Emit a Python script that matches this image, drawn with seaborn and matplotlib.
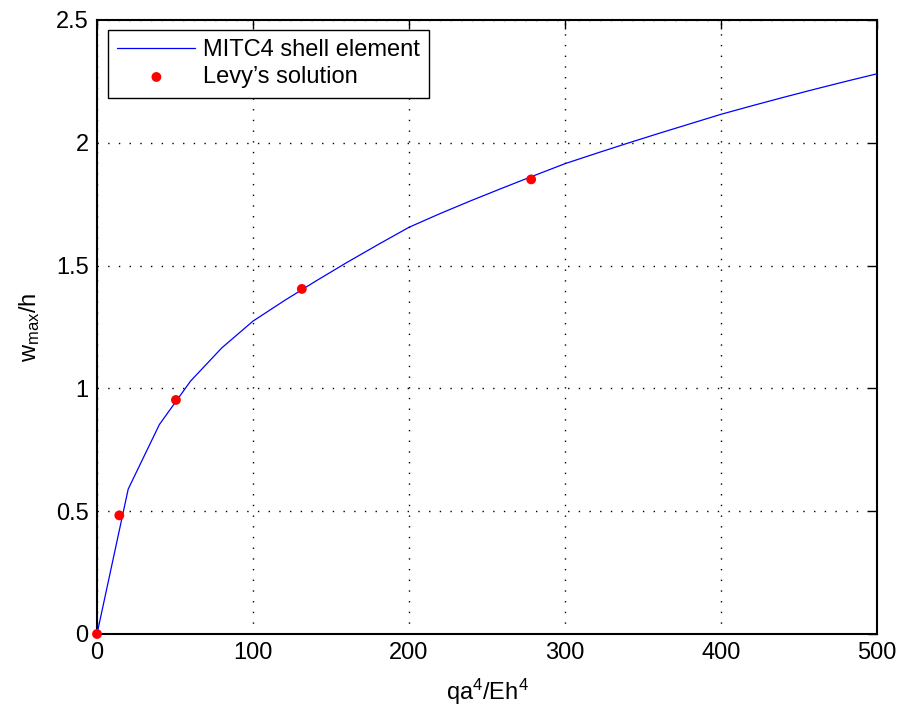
import matplotlib
matplotlib.use("Agg")
import matplotlib.pyplot as plt
import seaborn as sns
import pandas as pd

# Finite element load-deflection curve (MITC4 shell element)
load_fem = [0, 20, 40, 60, 80, 100, 120, 140, 160, 180, 200, 220, 240, 260, 280,
            300, 320, 340, 360, 380, 400, 420, 440, 460, 480, 500]
defl_fem = [0.0, 0.59, 0.853, 1.03, 1.165, 1.274, 1.357, 1.436, 1.512, 1.585,
            1.656, 1.712, 1.765, 1.816, 1.866, 1.915, 1.957, 1.998, 2.038, 2.077,
            2.116, 2.151, 2.185, 2.218, 2.250, 2.281]

# Reference values (Levy's solution)
load_levy = [0.0, 14.3, 50.6, 131.3, 278.3]
defl_levy = [0.0, 0.483, 0.953, 1.405, 1.851]

x_ticks = [0, 100, 200, 300, 400, 500]
y_ticks = [0, 0.5, 1, 1.5, 2, 2.5]
y_tick_labels = ["0", "0.5", "1", "1.5", "2", "2.5"]

sns.set_theme(style="white")
plt.rcParams["font.family"] = ["Liberation Sans", "DejaVu Sans"]
plt.rcParams["mathtext.fontset"] = "custom"
plt.rcParams["mathtext.rm"] = "Liberation Sans"
plt.rcParams["mathtext.it"] = "Liberation Sans"
plt.rcParams["text.color"] = "black"
plt.rcParams["axes.labelcolor"] = "black"

fem = pd.DataFrame({"load": load_fem, "defl": defl_fem})
levy = pd.DataFrame({"load": load_levy, "defl": defl_levy})

fig = plt.figure(figsize=(9.01, 7.10), dpi=100)
ax = fig.add_axes([97 / 901, 1 - 634 / 710, 780 / 901, 614 / 710])

sns.lineplot(data=fem, x="load", y="defl", ax=ax, color="#0000ff",
             linewidth=0.9, label="MITC4 shell element", zorder=3)
sns.scatterplot(data=levy, x="load", y="defl", ax=ax, color="#ff0000",
                s=50, edgecolor="none", label="Levy\u2019s solution", zorder=4,
                clip_on=False)

ax.set_xlim(0, 500)
ax.set_ylim(0, 2.5)
ax.set_xticks(x_ticks)
ax.set_yticks(y_ticks)
ax.set_yticklabels(y_tick_labels)

ax.grid(True, color="black", linestyle=(0, (1, 6.7)), linewidth=1.0)
ax.tick_params(direction="in", length=6.5, width=1, top=True, right=True,
               labelsize=17, pad=6, colors="black")
for sp in ax.spines.values():
    sp.set_visible(True)
    sp.set_color("black")
    sp.set_linewidth(1.5)

ax.set_xlabel(r"qa$^{4}$/Eh$^{4}$", fontsize=17, labelpad=9)
ax.set_ylabel(r"w$_{\mathrm{max}}$/h", fontsize=17, labelpad=10)

leg = ax.legend(loc="upper left", bbox_to_anchor=(0.0141, 0.9837), fontsize=17,
                frameon=True, fancybox=False, edgecolor="black",
                borderpad=0.4, handlelength=3.3, handletextpad=0.32,
                labelspacing=0.2, borderaxespad=0)
leg.get_frame().set_linewidth(1.0)
leg.get_frame().set_alpha(1)

fig.savefig("out.png", dpi=100)
